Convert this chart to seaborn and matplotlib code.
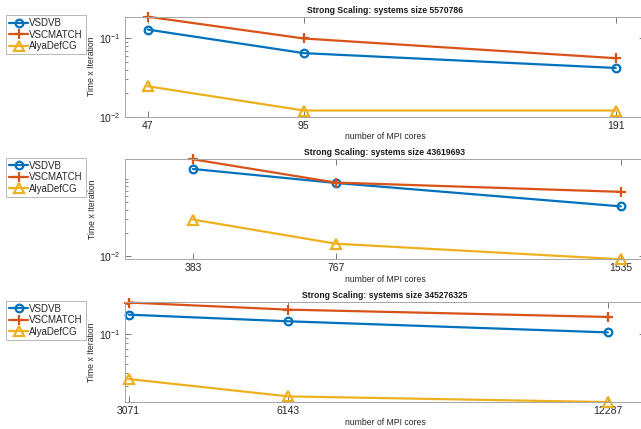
import matplotlib
matplotlib.use("Agg")
import matplotlib.pyplot as plt
import matplotlib.ticker as mticker
import seaborn as sns
import pandas as pd

# Strong scaling runs: cores per system size and time per iteration
sizes = ["5570786", "43619693", "345276325"]
cores = [[47, 95, 191], [383, 767, 1535], [3071, 6143, 12287]]
vsdvb = [[0.13, 0.065, 0.042], [0.133, 0.088, 0.044], [0.155, 0.133, 0.103]]
vscmatch = [[0.19, 0.1, 0.056], [0.177, 0.089, 0.0676], [0.205, 0.174, 0.147]]
alya = [[0.0245, 0.012, 0.012], [0.0298, 0.0146, 0.0092], [0.0352, 0.0236, 0.0207]]
series_names = ["VSDVB", "VSCMATCH", "AlyaDefCG"]

x_limits = [(40, 200), (200, 1600), (3000, 13000)]
y_limits = [(0.01, 0.19), (0.0092, 0.177), (0.0206, 0.206)]
y_major = [[0.01, 0.1], [0.01], [0.1]]

colors = ["#0072BD", "#D95319", "#EDB120"]
markers = ["o", "+", "^"]

sns.set_style("ticks")
plt.rcParams["font.family"] = ["Liberation Sans", "DejaVu Sans"]
plt.rcParams["mathtext.fontset"] = "custom"
plt.rcParams["mathtext.rm"] = "Liberation Sans"

W, H = 641, 429
fig = plt.figure(figsize=(W / 100, H / 100), dpi=100)

panel_tops = [16.7, 159.3, 302.3]
left_px, right_px, height_px = 125, 645, 100

# minor ticks at 2..9 of every decade in range
minor_vals = [m * 10.0 ** e for e in (-3, -2, -1) for m in range(1, 10)]

for i in range(3):
    top = panel_tops[i]
    ax = fig.add_axes([left_px / W, 1 - (top + height_px) / H,
                       (right_px - left_px) / W, height_px / H])
    df = pd.DataFrame({
        "cores": cores[i] * 3,
        "time": vsdvb[i] + vscmatch[i] + alya[i],
        "series": [n for n in series_names for _ in range(3)],
    })
    for name, col, mk in zip(series_names, colors, markers):
        sub = df[df["series"] == name]
        size = {"o": 5.5, "+": 6.5, "^": 6.5}[mk]
        sns.lineplot(data=sub, x="cores", y="time", ax=ax, color=col,
                     linewidth=1.6, label=name, clip_on=False,
                     marker=mk, markersize=size, markerfacecolor="none",
                     markeredgewidth=1.6, markeredgecolor=col)
    ax.set_yscale("log")
    ax.set_xlim(*x_limits[i])
    ax.set_ylim(*y_limits[i])
    ax.set_xticks(cores[i])
    ax.set_xticklabels([str(c) for c in cores[i]])
    ax.xaxis.set_minor_locator(mticker.NullLocator())
    ax.yaxis.set_major_locator(mticker.FixedLocator(y_major[i]))
    ax.yaxis.set_major_formatter(mticker.LogFormatterSciNotation())
    ax.yaxis.set_minor_locator(mticker.FixedLocator(
        [v for v in minor_vals if v not in y_major[i]]))
    ax.yaxis.set_minor_formatter(mticker.NullFormatter())
    ax.tick_params(which="both", direction="in", top=True, right=True,
                   labelsize=7.5, colors="#777777", labelcolor="#262626", pad=3)
    ax.tick_params(which="major", length=4, width=0.7)
    ax.tick_params(which="minor", length=2.5, width=0.6)
    for sp in ax.spines.values():
        sp.set_color("#a6a6a6")
        sp.set_linewidth(0.7)
    ax.set_title(f"Strong Scaling: systems size {sizes[i]}", fontsize=6.2,
                 fontweight="bold", pad=3, color="#1a1a1a")
    ax.set_xlabel("number of MPI cores", fontsize=6.2, labelpad=1, color="#262626")
    ax.set_ylabel("Time x Iteration", fontsize=6.2, labelpad=2, color="#262626")
    leg = ax.legend(loc="upper left", bbox_to_anchor=(6 / W, 1 - (top - 1.5) / H),
                    bbox_transform=fig.transFigure, fontsize=7, frameon=True,
                    fancybox=False, borderaxespad=0, borderpad=0.3,
                    handlelength=2.0, handletextpad=0.1, labelspacing=0.15)
    leg.get_frame().set_edgecolor("#a6a6a6")
    leg.get_frame().set_linewidth(0.7)

fig.savefig("out.png", dpi=100)
